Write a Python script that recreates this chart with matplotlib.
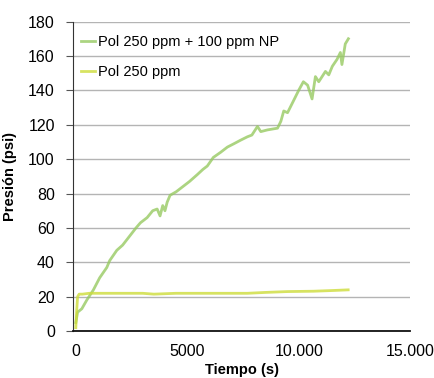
import numpy as np
import matplotlib
matplotlib.use("Agg")
import matplotlib.pyplot as plt

plt.rcParams['font.family'] = ['Liberation Sans', 'DejaVu Sans']

# Pol 250 ppm + 100 ppm NP
t_np = [0, 80, 270, 490, 790, 1070, 1390, 1520, 1840, 2100, 2400, 2700, 2900,
        3200, 3450, 3650, 3780, 3900, 4000, 4100, 4230, 4500, 4800, 5100, 5450,
        5700, 5900, 6170, 6500, 6800, 7100, 7390, 7700, 7900, 8150, 8300, 8600,
        9050, 9200, 9330, 9500, 9770, 10000, 10210, 10400, 10600, 10750, 10900,
        11000, 11200, 11350, 11510, 11720, 11870, 11940, 12090, 12230]
p_np = [5, 11, 13, 18, 24, 31, 37, 41, 47, 50, 55, 60, 63,
        66, 70, 71, 67, 73, 70, 75, 79, 81, 84, 87, 91,
        94, 96, 101, 104, 107, 109, 111, 113, 114, 119, 116, 117,
        118, 122, 128, 127, 134, 140, 145, 143, 135, 148, 145,
        147, 151, 149, 154, 158, 162, 155, 167, 170]

# Pol 250 ppm
t_pol = [0, 40, 80, 150, 300, 600, 1000, 2000, 3000, 3500, 4500, 5500, 6500,
         7700, 8500, 9500, 10660, 11500, 12220]
p_pol = [2, 12, 20, 21.5, 21.5, 22, 22, 22, 22, 21.5, 22, 22, 22,
         22, 22.5, 23, 23.2, 23.6, 24]

xticks = [0, 5000, 10000, 15000]
xtick_labels = ["0", "5000", "10.000", "15.000"]
yticks = list(range(0, 181, 20))

fig = plt.figure(figsize=(4.34, 3.78), dpi=100)
ax = fig.add_axes([0.168, 0.124, 0.777, 0.819])

ax.plot(t_np, p_np, color='#97ca62', lw=2.0, alpha=0.8, label='Pol 250 ppm + 100 ppm NP')
ax.plot(t_pol, p_pol, color='#cddc3a', lw=2.0, alpha=0.8, label='Pol 250 ppm')

ax.set_xlim(-130, 15000)
ax.set_ylim(0, 180)
ax.set_xticks(xticks)
ax.set_xticklabels(xtick_labels)
ax.set_yticks(yticks)
ax.yaxis.grid(True, color='#b4b4b4', lw=1)
ax.set_axisbelow(True)

for s in ['top', 'right']:
    ax.spines[s].set_visible(False)
ax.spines['left'].set_color('#333333')
ax.spines['bottom'].set_color('#111111')
ax.spines['bottom'].set_linewidth(1.3)
ax.tick_params(axis='y', length=5, color='#555555', labelsize=11.5, pad=8)
ax.tick_params(axis='x', length=0, labelsize=11.5, pad=9)

ax.set_xlabel('Tiempo (s)', fontweight='bold', fontsize=10.5, labelpad=3)
ax.set_ylabel('Presión (psi)', fontweight='bold', fontsize=10.5, labelpad=8)

ax.legend(loc='upper left', bbox_to_anchor=(-0.018, 1.0), frameon=False,
          fontsize=10.5, handlelength=1.0, handletextpad=0.2,
          labelspacing=1.05, borderaxespad=0.55)

fig.savefig('out.png', dpi=100)
